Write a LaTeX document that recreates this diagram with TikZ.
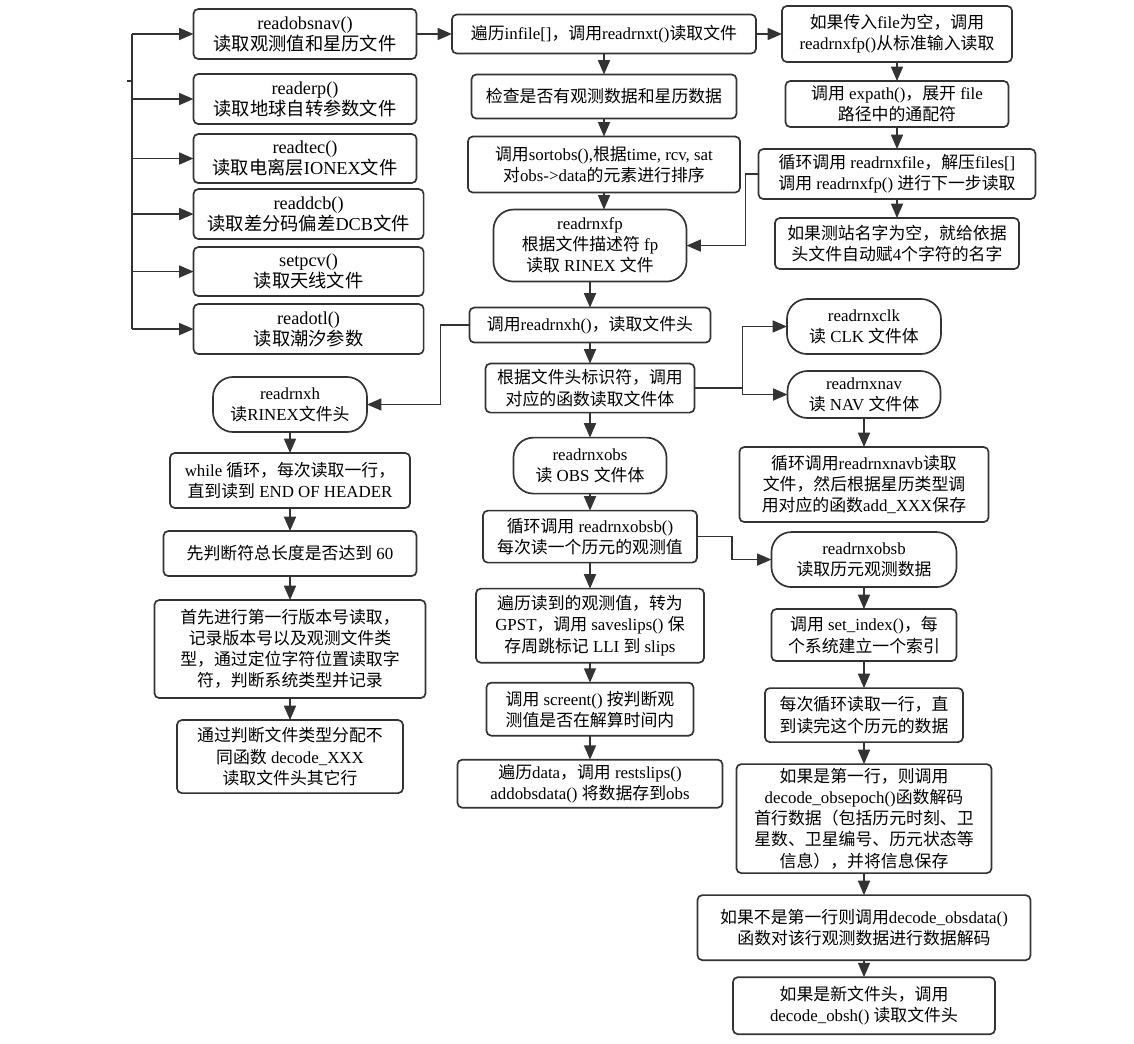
\documentclass[tikz,border=0pt]{standalone}
\usepackage{fontspec}
\setmainfont{Liberation Serif}
\newfontfamily\latinfont{Liberation Serif}
\newfontfamily\cjkfont{Noto Sans CJK SC}
\usetikzlibrary{positioning,arrows.meta}

% Chinese characters switch to the CJK font, Latin ones switch back
\XeTeXinterchartokenstate=1
\newXeTeXintercharclass\cjkclass
\newcount\cjkcode
\cjkcode="3000
\loop \XeTeXcharclass\cjkcode=\cjkclass \advance\cjkcode by 1 \ifnum\cjkcode<"3040 \repeat
\cjkcode="4E00
\loop \XeTeXcharclass\cjkcode=\cjkclass \advance\cjkcode by 1 \ifnum\cjkcode<"A000 \repeat
\cjkcode="FF00
\loop \XeTeXcharclass\cjkcode=\cjkclass \advance\cjkcode by 1 \ifnum\cjkcode<"FFF0 \repeat
\XeTeXinterchartoks 0 \cjkclass = {\cjkfont}
\XeTeXinterchartoks 4095 \cjkclass = {\cjkfont}
\XeTeXinterchartoks \cjkclass 0 = {\latinfont}
\XeTeXinterchartoks \cjkclass 4095 = {\latinfont}

\begin{document}
\begin{tikzpicture}[
        x=0.025cm, y=-0.025cm,
        font=\fontsize{12}{15}\selectfont,
        flow/.style={-{Triangle[length=3.6mm, width=3mm]}, line width=1.2pt, draw=black!80},
        link/.style={line width=1.2pt, draw=black!80},
        box/.style={
            rectangle,
            rounded corners=1.2mm,
            draw=black!80,
            line width=1.2pt,
            align=center,
            inner sep=2pt,
            outer sep=0pt
        },
        term/.style={box, rounded corners=5mm},
        calls/.style={box, font=\fontsize{13}{15}\selectfont}
    ]

    \useasboundingbox (0,0) rectangle (1134,1044);

    \node[calls, minimum width=55.75mm, minimum height=12.5mm] (obsnav) at (305,34)
        {readobsnav()\\读取观测值和星历文件};
    \node[calls, minimum width=55.75mm, minimum height=12.5mm, below=3.75mm of obsnav] (erp)
        {readerp()\\读取地球自转参数文件};
    \node[calls, minimum width=55.75mm, minimum height=12.25mm, below=2.5mm of erp] (tec)
        {readtec()\\读取电离层IONEX文件};
    \node[calls, minimum width=57.5mm, minimum height=12.5mm, below=1.5mm of tec, xshift=0.9mm] (dcb)
        {readdcb()\\读取差分码偏差DCB文件};
    \node[calls, minimum width=57.5mm, minimum height=12.25mm, below=2mm of dcb] (pcv)
        {setpcv()\\读取天线文件};
    \node[calls, minimum width=57.5mm, minimum height=12.5mm, below=2mm of pcv] (otl)
        {readotl()\\读取潮汐参数};

    \node[box, minimum width=76mm, minimum height=9.75mm] (infile) at (604,34)
        {遍历infile[]，调用readrnxt()读取文件};
    \node[box, minimum width=66.25mm, minimum height=11mm, below=5.25mm of infile] (check)
        {检查是否有观测数据和星历数据};
    \node[box, minimum width=68mm, minimum height=14mm, below=4.5mm of check] (sortobs)
        {调用sortobs(),根据time, rcv, sat\\对obs->data的元素进行排序};
    \node[term, minimum width=48.25mm, minimum height=18mm, below=4.25mm of sortobs, xshift=-3.5mm] (rnxfp)
        {readrnxfp\\根据文件描述符 fp\\读取 RINEX 文件};
    \node[box, minimum width=60.25mm, minimum height=8.75mm, below=6.5mm of rnxfp] (callh)
        {调用readrnxh()，读取文件头};
    \node[box, minimum width=52.25mm, minimum height=12.25mm, below=5.25mm of callh] (ident)
        {根据文件头标识符，调用\\对应的函数读取文件体};
    \node[term, minimum width=38.25mm, minimum height=14mm, below=6.25mm of ident] (rnxobs)
        {readrnxobs\\读 OBS 文件体};
    \node[box, minimum width=53.5mm, minimum height=13mm, below=4.25mm of rnxobs] (obsloop)
        {循环调用 readrnxobsb()\\每次读一个历元的观测值};
    \node[box, minimum width=57mm, minimum height=18.5mm, below=6.5mm of obsloop] (gpst)
        {遍历读到的观测值，转为\\GPST，调用 saveslips() 保\\存周跳标记 LLI 到 slips};
    \node[box, minimum width=51.75mm, minimum height=13.25mm, below=5mm of gpst] (screent)
        {调用 screent() 按判断观\\测值是否在解算时间内};
    \node[box, minimum width=66.25mm, minimum height=12mm, below=6mm of screent] (addobs)
        {遍历data，调用 restslips()\\addobsdata() 将数据存到obs};

    \node[box, minimum width=57.5mm, minimum height=14mm] (stdin) at (897,34)
        {如果传入file为空，调用\\readrnxfp()从标准输入读取};
    \node[box, minimum width=55.75mm, minimum height=11.5mm, below=4.75mm of stdin] (expath)
        {调用 expath()，展开 file\\路径中的通配符};
    \node[box, minimum width=69.25mm, minimum height=12.5mm, below=5.5mm of expath] (rnxfile)
        {循环调用 readrnxfile，解压files[]\\调用 readrnxfp() 进行下一步读取};
    \node[box, minimum width=61mm, minimum height=12.75mm, below=4.75mm of rnxfile] (station)
        {如果测站名字为空，就给依据\\头文件自动赋4个字符的名字};

    \node[term, minimum width=38.5mm, minimum height=13.75mm] (rnxh) at (290,404.5)
        {readrnxh\\读RINEX文件头};
    \node[box, minimum width=60mm, minimum height=13.75mm, below=5.25mm of rnxh] (whileloop)
        {while 循环，每次读取一行，\\直到读到 END OF HEADER};
    \node[box, minimum width=63.25mm, minimum height=11.25mm, below=5.75mm of whileloop] (len60)
        {先判断符总长度是否达到 60};
    \node[box, minimum width=67.75mm, minimum height=24.5mm, below=6mm of len60] (version)
        {首先进行第一行版本号读取，\\记录版本号以及观测文件类\\型，通过定位字符位置读取字\\符，判断系统类型并记录};
    \node[box, minimum width=56.5mm, minimum height=18.25mm, below=5.5mm of version] (decode)
        {通过判断文件类型分配不\\同函数 decode\_XXX\\读取文件头其它行};

    \node[term, minimum width=38.5mm, minimum height=13.75mm] (rnxclk) at (864,326.5)
        {readrnxclk\\读 CLK 文件体};
    \node[term, minimum width=38.25mm, minimum height=11.75mm, below=4.25mm of rnxclk] (rnxnav)
        {readrnxnav\\读 NAV 文件体};
    \node[box, minimum width=62.25mm, minimum height=18.75mm, below=7.25mm of rnxnav] (navb)
        {循环调用readrnxnavb读取\\文件，然后根据星历类型调\\用对应的函数add\_XXX保存};
    \node[term, minimum width=46.25mm, minimum height=13.75mm, below=2.5mm of navb] (rnxobsb)
        {readrnxobsb\\读取历元观测数据};
    \node[box, minimum width=46.25mm, minimum height=13mm, below=5.5mm of rnxobsb] (setindex)
        {调用 set\_index()，每\\个系统建立一个索引};
    \node[box, minimum width=49.5mm, minimum height=13.5mm, below=6.75mm of setindex] (eachline)
        {每次循环读取一行，直\\到读完这个历元的数据};
    \node[box, minimum width=63.75mm, minimum height=27.25mm, below=5.5mm of eachline] (firstline)
        {如果是第一行，则调用\\decode\_obsepoch()函数解码\\首行数据（包括历元时刻、卫\\星数、卫星编号、历元状态等\\信息），并将信息保存};
    \node[box, minimum width=83.25mm, minimum height=16.25mm, below=5.5mm of firstline] (obsdata)
        {如果不是第一行则调用decode\_obsdata()\\函数对该行观测数据进行数据解码};
    \node[box, minimum width=65.5mm, minimum height=14.25mm, below=4.25mm of obsdata] (newhead)
        {如果是新文件头，调用\\decode\_obsh() 读取文件头};

    \coordinate (entry) at (127,81);
    \coordinate (bus) at (132,81);
    \draw[link] (entry) -- (bus);
    \draw[link] (bus |- obsnav.west) -- (bus |- otl.west);
    \draw[flow] (bus |- obsnav.west) -- (obsnav.west);
    \draw[flow] (bus |- erp.west) -- (erp.west);
    \draw[flow] (bus |- tec.west) -- (tec.west);
    \draw[flow] (bus |- dcb.west) -- (dcb.west);
    \draw[flow] (bus |- pcv.west) -- (pcv.west);
    \draw[flow] (bus |- otl.west) -- (otl.west);

    \draw[flow] (obsnav) -- (infile);
    \draw[flow] (infile) -- (stdin);
    \draw[flow] (infile) -- (check);
    \draw[flow] (check) -- (sortobs);
    \draw[flow] (sortobs) -- (sortobs |- rnxfp.north);
    \draw[flow] (rnxfp) -- (callh);
    \draw[flow] (callh) -- (ident);
    \draw[flow] (ident) -- (rnxobs);
    \draw[flow] (rnxobs) -- (obsloop);
    \draw[flow] (obsloop) -- (gpst);
    \draw[flow] (gpst) -- (screent);
    \draw[flow] (screent) -- (addobs);

    \draw[flow] (stdin) -- (expath);
    \draw[flow] (expath) -- (rnxfile);
    \draw[flow] (rnxfile) -- (station);
    \draw[flow] (rnxfile.west) -- ++(-13,0) |- (rnxfp.east);

    \draw[flow] (callh.west) -- ++(-29,0) |- (rnxh.east);
    \draw[flow] (rnxh) -- (whileloop);
    \draw[flow] (whileloop) -- (len60);
    \draw[flow] (len60) -- (version);
    \draw[flow] (version) -- (decode);

    \draw[link] (ident.east) -- ++(48,0) coordinate (split);
    \draw[flow] (split) |- (rnxclk.west);
    \draw[flow] (split) |- (rnxnav.west);
    \draw[flow] (rnxnav) -- (navb);

    \draw[flow] (obsloop.east) -- ++(35,0) |- (rnxobsb.west);
    \draw[flow] (rnxobsb) -- (setindex);
    \draw[flow] (setindex) -- (eachline);
    \draw[flow] (eachline) -- (firstline);
    \draw[flow] (firstline) -- (obsdata);
    \draw[flow] (obsdata) -- (newhead);

\end{tikzpicture}
\end{document}
